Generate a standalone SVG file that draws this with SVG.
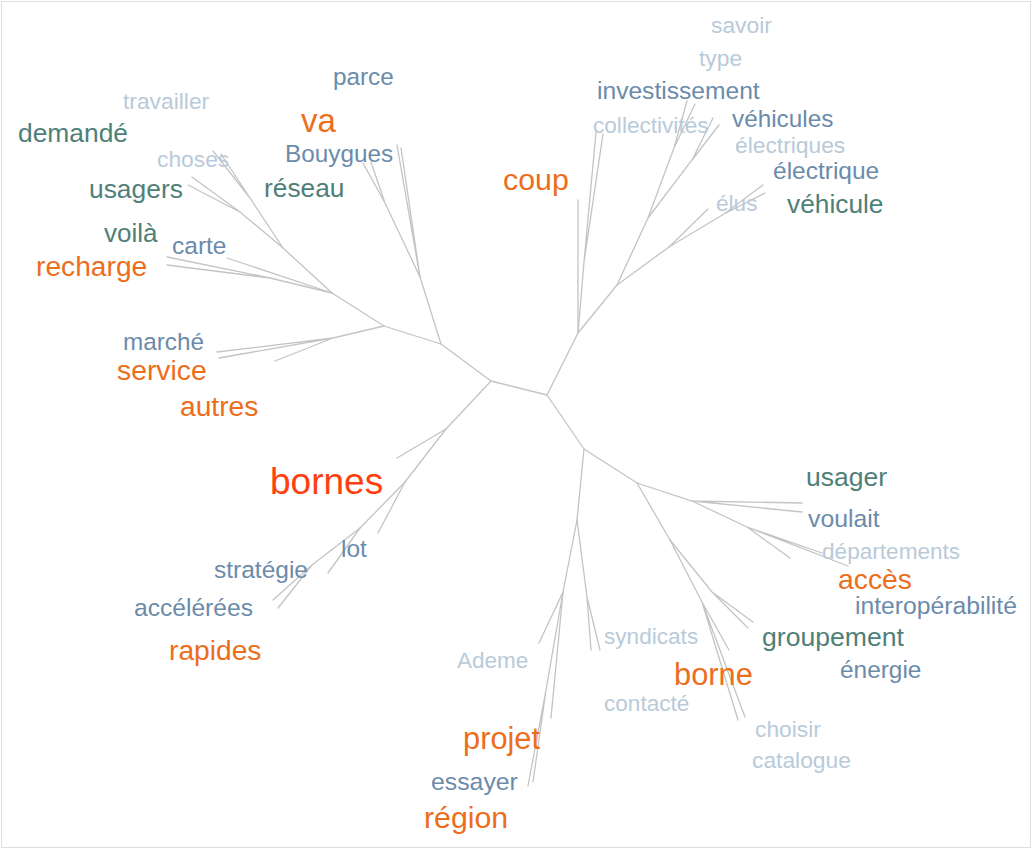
<svg xmlns="http://www.w3.org/2000/svg" width="1032" height="849" viewBox="0 0 1032 849">
<style>
text{font-family:"Liberation Sans",Arial,sans-serif}
.e{stroke:#c4c4c4;stroke-width:1.3;fill:none;stroke-linecap:round}
.lt{fill:#b9cad9}
.bl{fill:#6b8bab}
.tl{fill:#4e8078}
.or{fill:#ec6e1c}
.rd{fill:#ff3f10}
</style>
<rect x="1.5" y="1.5" width="1029" height="846" fill="#fff" stroke="#dedede"/>
<g id="connectors" class="e">
<path d="M491,381L547,395"/>
<path d="M491,381L441,344"/>
<path d="M441,344L420,277L397,145M420,277L401,148"/>
<path d="M420,277L385,203L363,163M385,203L371,162"/>
<path d="M441,344L384,326"/>
<path d="M384,326L333,338L217,352M333,338L219,358M333,338L275,361"/>
<path d="M384,326L332,293"/>
<path d="M332,293L270,278L167,257M270,278L167,265"/>
<path d="M332,293L227,258"/>
<path d="M332,293L283,248L240,212L192,177M240,212L188,185"/>
<path d="M283,248L250,198L213,151M250,198L221,154"/>
<path d="M547,395L578,333"/>
<path d="M578,333L578,200"/>
<path d="M578,333L584,262L596,132M584,262L603,134"/>
<path d="M578,333L617,285"/>
<path d="M617,285L648,218L674,148L687,101M674,148L695,104"/>
<path d="M648,218L692,160L713,118M692,160L719,125"/>
<path d="M617,285L669,247L708,209"/>
<path d="M669,247L724,214L763,185M724,214L765,193"/>
<path d="M491,381L446,429"/>
<path d="M446,429L397,458"/>
<path d="M446,429L405,482"/>
<path d="M405,482L378,533"/>
<path d="M405,482L360,528L328,573"/>
<path d="M360,528L312,565L273,600M312,565L278,608"/>
<path d="M547,395L584,449"/>
<path d="M584,449L577,520"/>
<path d="M577,520L563,592L539,643"/>
<path d="M563,592L551,718"/>
<path d="M563,592L546,690L528,786M546,690L533,782"/>
<path d="M577,520L587,597L591,650M587,597L600,650"/>
<path d="M584,449L637,483"/>
<path d="M637,483L670,540"/>
<path d="M670,540L712,592L753,622M712,592L748,628"/>
<path d="M670,540L702,602L729,650M702,602L738,720M702,602L745,717"/>
<path d="M637,483L692,501L802,503M692,501L802,512"/>
<path d="M692,501L747,527L790,558M747,527L822,553M747,527L848,566"/>
</g>
<g id="n-savoir"><text class="lt" x="711" y="33" font-size="22.8">savoir</text></g>
<g id="n-type"><text class="lt" x="699" y="66" font-size="22.8">type</text></g>
<g id="n-investissement"><text class="bl" x="597" y="99" font-size="24.6">investissement</text></g>
<g id="n-collectivites"><text class="lt" x="593" y="133" font-size="22.6">collectivités</text></g>
<g id="n-vehicules"><text class="bl" x="732" y="127" font-size="24.3">véhicules</text></g>
<g id="n-electriques"><text class="lt" x="735" y="153" font-size="22.8">électriques</text></g>
<g id="n-electrique"><text class="bl" x="773" y="179" font-size="24.5">électrique</text></g>
<g id="n-elus"><text class="lt" x="716" y="211" font-size="22.6">élus</text></g>
<g id="n-vehicule"><text class="tl" x="787" y="213" font-size="26.3">véhicule</text></g>
<g id="n-coup"><text class="or" x="503" y="190" font-size="30.4">coup</text></g>
<g id="n-parce"><text class="bl" x="333" y="85" font-size="24.3">parce</text></g>
<g id="n-travailler"><text class="lt" x="123" y="109" font-size="22.8">travailler</text></g>
<g id="n-demande"><text class="tl" x="18" y="142" font-size="26.4">demandé</text></g>
<g id="n-va"><text class="or" x="301" y="132" font-size="33">va</text></g>
<g id="n-choses"><text class="lt" x="157" y="167" font-size="22.8">choses</text></g>
<g id="n-bouygues"><text class="bl" x="285" y="162" font-size="24.3">Bouygues</text></g>
<g id="n-usagers"><text class="tl" x="89" y="198" font-size="26.4">usagers</text></g>
<g id="n-reseau"><text class="tl" x="264" y="197" font-size="26.3">réseau</text></g>
<g id="n-voila"><text class="tl" x="104" y="242" font-size="26">voilà</text></g>
<g id="n-carte"><text class="bl" x="172" y="254" font-size="24.5">carte</text></g>
<g id="n-recharge"><text class="or" x="36" y="276" font-size="28.2">recharge</text></g>
<g id="n-marche"><text class="bl" x="123" y="350" font-size="24.3">marché</text></g>
<g id="n-service"><text class="or" x="117" y="380" font-size="28.3">service</text></g>
<g id="n-autres"><text class="or" x="180" y="416" font-size="28.2">autres</text></g>
<g id="n-bornes"><text class="rd" x="270" y="494" font-size="37">bornes</text></g>
<g id="n-lot"><text class="bl" x="341" y="557" font-size="24.5">lot</text></g>
<g id="n-strategie"><text class="bl" x="214" y="578" font-size="24.5">stratégie</text></g>
<g id="n-accelerees"><text class="bl" x="134" y="616" font-size="24.6">accélérées</text></g>
<g id="n-rapides"><text class="or" x="169" y="660" font-size="28.2">rapides</text></g>
<g id="n-ademe"><text class="lt" x="457" y="668" font-size="22.5">Ademe</text></g>
<g id="n-syndicats"><text class="lt" x="604" y="644" font-size="22.6">syndicats</text></g>
<g id="n-borne"><text class="or" x="674" y="685" font-size="30.8">borne</text></g>
<g id="n-contacte"><text class="lt" x="604" y="711" font-size="22.6">contacté</text></g>
<g id="n-choisir"><text class="lt" x="755" y="737" font-size="22.8">choisir</text></g>
<g id="n-catalogue"><text class="lt" x="752" y="768" font-size="22.8">catalogue</text></g>
<g id="n-usager"><text class="tl" x="806" y="486" font-size="26.5">usager</text></g>
<g id="n-voulait"><text class="bl" x="808" y="527" font-size="24.8">voulait</text></g>
<g id="n-departements"><text class="lt" x="822" y="559" font-size="22.6">départements</text></g>
<g id="n-acces"><text class="or" x="838" y="589" font-size="28.3">accès</text></g>
<g id="n-interoperabilite"><text class="bl" x="855" y="614" font-size="24.7">interopérabilité</text></g>
<g id="n-groupement"><text class="tl" x="762" y="646" font-size="26.6">groupement</text></g>
<g id="n-energie"><text class="bl" x="840" y="678" font-size="24.4">énergie</text></g>
<g id="n-projet"><text class="or" x="463" y="749" font-size="30.8">projet</text></g>
<g id="n-essayer"><text class="bl" x="431" y="790" font-size="24.8">essayer</text></g>
<g id="n-region"><text class="or" x="424" y="828" font-size="30.3">région</text></g>
</svg>
